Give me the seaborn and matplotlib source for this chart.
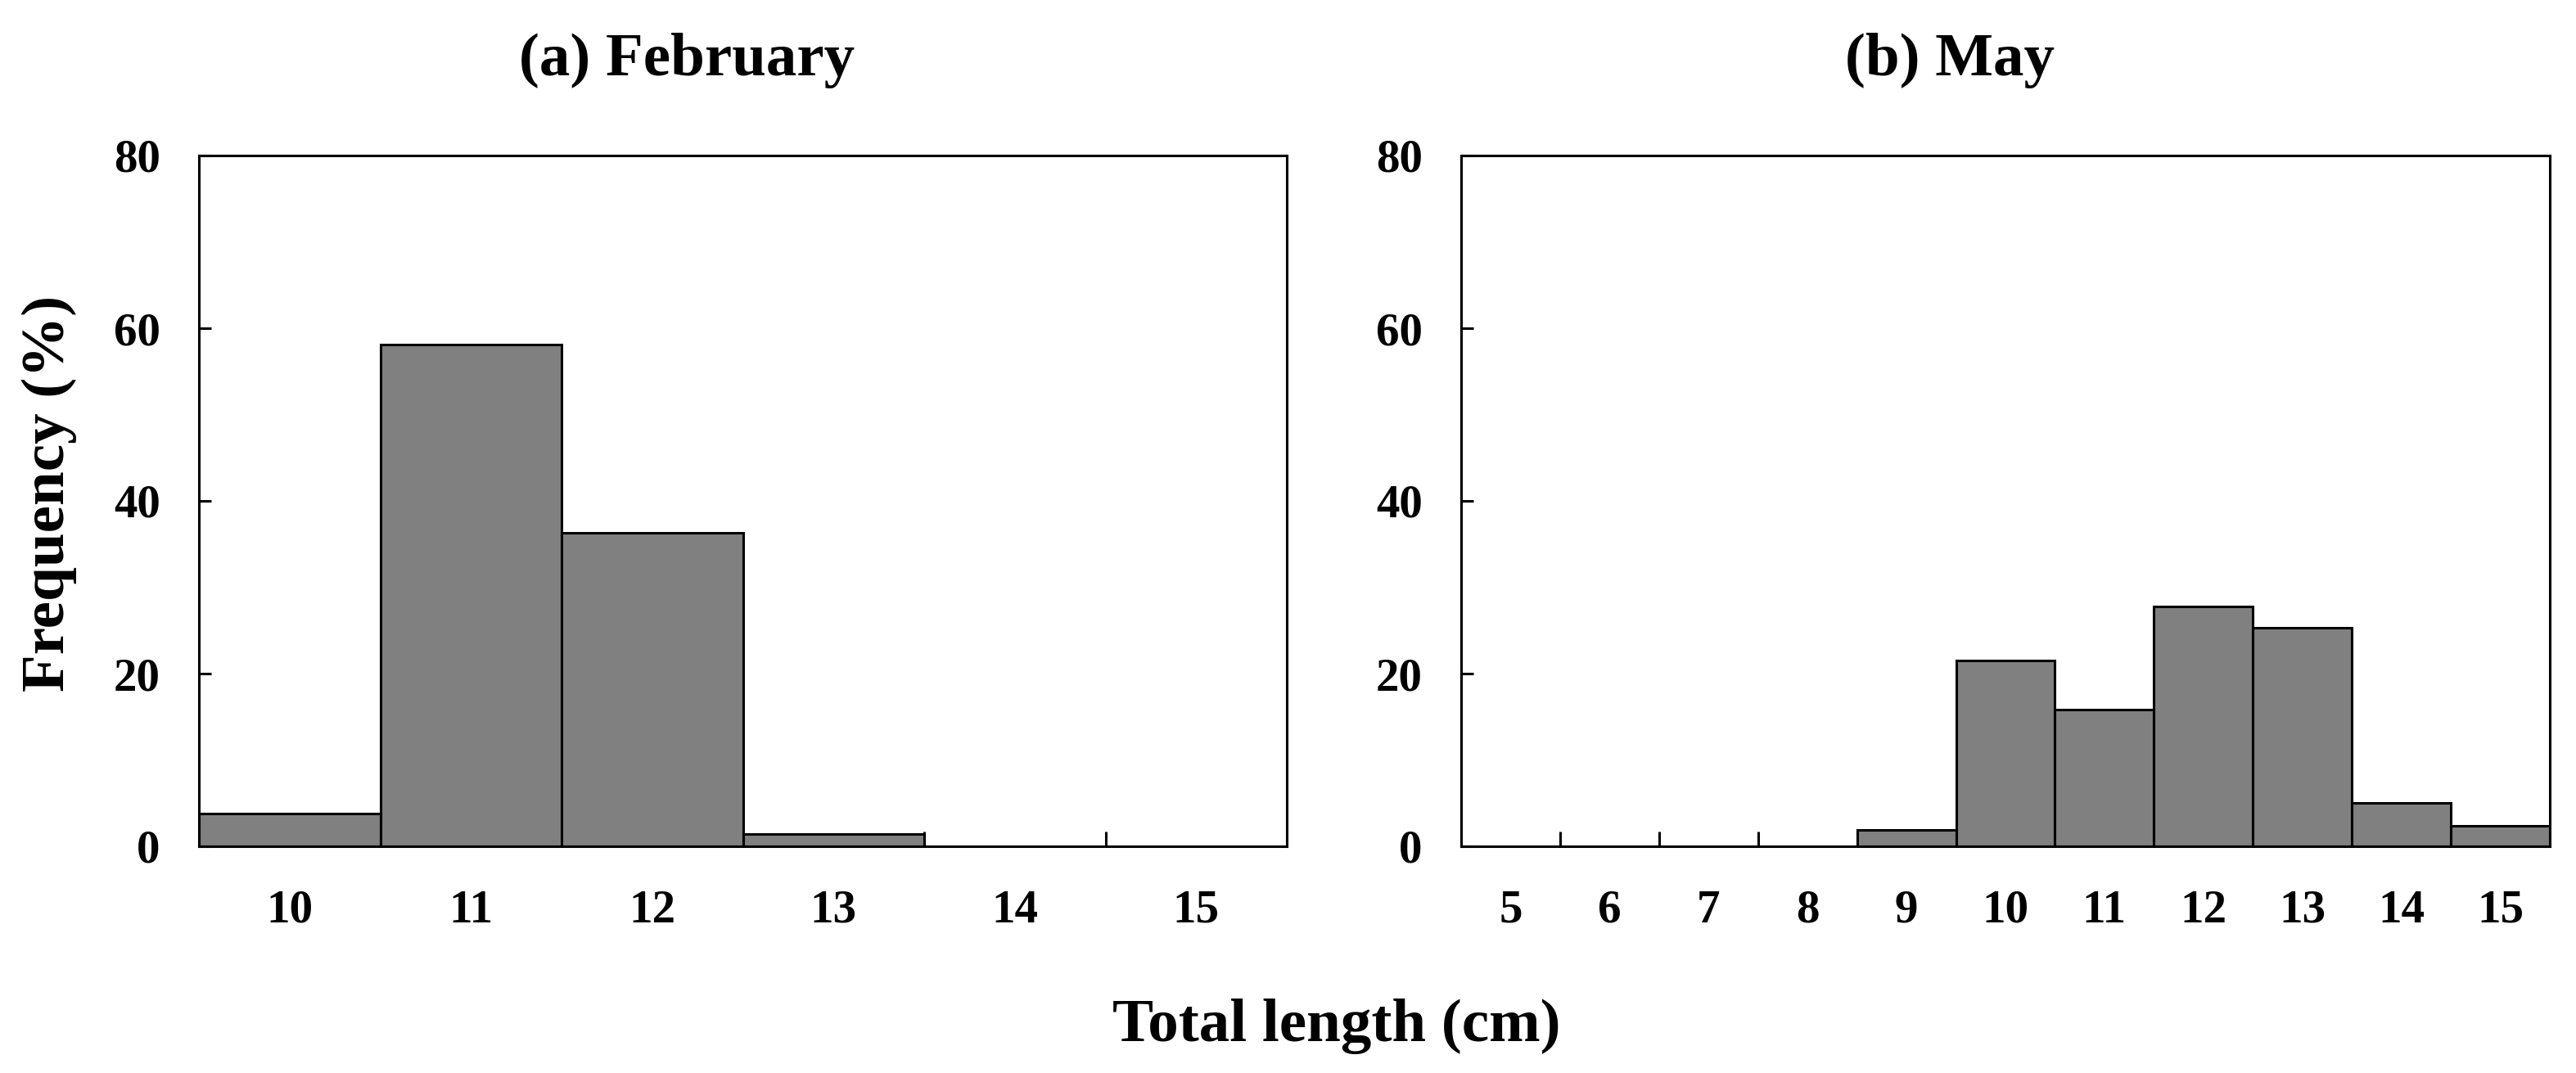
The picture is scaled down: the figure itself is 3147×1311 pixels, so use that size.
import matplotlib
matplotlib.use("Agg")
import matplotlib.pyplot as plt
import seaborn as sns
import numpy as np
from matplotlib.ticker import FixedLocator

# ---- data ----
feb_lengths = [10, 11, 12, 13, 14, 15]
feb_freq = [3.8, 58.1, 36.3, 1.4, 0.0, 0.0]
may_lengths = [5, 6, 7, 8, 9, 10, 11, 12, 13, 14, 15]
may_freq = [0.0, 0.0, 0.0, 0.0, 1.9, 21.5, 15.8, 27.8, 25.3, 5.0, 2.4]
titles = ["(a) February", "(b) May"]
y_ticks = [0, 20, 40, 60, 80]
xlabel = "Total length (cm)"
ylabel = "Frequency (%)"

sns.set_style("ticks")
plt.rcParams['font.family'] = ['Liberation Serif', 'DejaVu Serif']
plt.rcParams['font.weight'] = 'bold'
for key in ['text.color', 'xtick.color', 'ytick.color', 'axes.labelcolor',
            'axes.edgecolor', 'xtick.labelcolor', 'ytick.labelcolor']:
    plt.rcParams[key] = 'black'

W, H = 3147, 1311
fig = plt.figure(figsize=(W / 100, H / 100), dpi=100)

ax1 = fig.add_axes([243 / W, (H - 1034) / H, 1329 / W, 844 / H])
ax2 = fig.add_axes([1785 / W, (H - 1034) / H, 1330 / W, 844 / H])

panels = [(ax1, feb_lengths, feb_freq), (ax2, may_lengths, may_freq)]
for ax, xs, ws in panels:
    sns.histplot(x=xs, weights=ws, discrete=True, ax=ax,
                 color="#808080", alpha=1, edgecolor="black", linewidth=2.2)
    ax.set_xlim(min(xs) - 0.5, max(xs) + 0.5)
    ax.set_ylim(0, 80)
    ax.set_xticks(xs)
    ax.set_xticklabels([str(v) for v in xs])
    ax.xaxis.set_minor_locator(FixedLocator([v + 0.5 for v in xs[:-1]]))
    ax.set_yticks(y_ticks)
    ax.set_yticklabels([str(v) for v in y_ticks])
    ax.tick_params(axis='x', which='major', length=0, pad=38, labelsize=41,
                   colors='black')
    ax.tick_params(axis='x', which='minor', direction='in', length=13, width=2.2,
                   colors='black')
    ax.tick_params(axis='y', which='major', direction='in', length=11, width=2.2,
                   pad=34, labelsize=41, colors='black')
    for lab in ax.get_xticklabels() + ax.get_yticklabels():
        lab.set_fontweight('bold')
        lab.set_color('black')
    for s in ax.spines.values():
        s.set_visible(True)
        s.set_linewidth(2.2)
        s.set_color('black')
    ax.set_xlabel("")
    ax.set_ylabel("")

fig.text(839 / W, 1 - 92 / H, titles[0], ha='center', va='baseline',
         fontsize=54, fontweight='bold', color='black')
fig.text(2382 / W, 1 - 92 / H, titles[1], ha='center', va='baseline',
         fontsize=54, fontweight='bold', color='black')
fig.text(1633 / W, 1 - 1272 / H, xlabel, ha='center', va='baseline',
         fontsize=54, fontweight='bold', color='black')
fig.text(60 / W, 1 - 603 / H, ylabel, ha='center', va='center', rotation=90,
         fontsize=54, fontweight='bold', color='black')

fig.savefig("out.png", dpi=100, facecolor='white')
